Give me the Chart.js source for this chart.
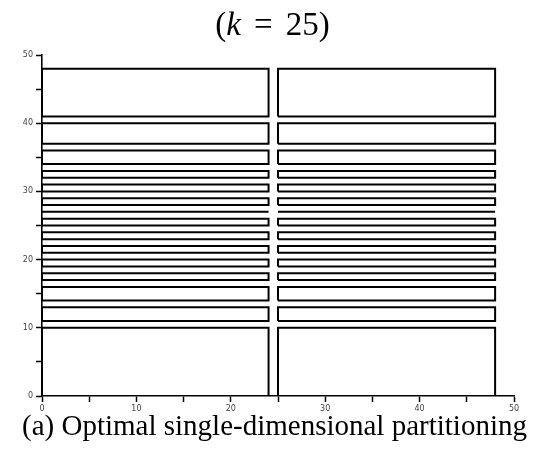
<!DOCTYPE html>
<html>
<head>
<meta charset="utf-8">
<script src="https://cdn.jsdelivr.net/npm/chart.js@4/dist/chart.umd.min.js"></script>
<style>
  html, body { margin: 0; padding: 0; background: #fff; }
  #wrap { position: relative; width: 543px; height: 453px; overflow: hidden; }
  #chart { position: absolute; left: 0; top: 0; }
  .txt { position: absolute; font-family: 'Liberation Serif', 'DejaVu Serif', serif; color: #000; white-space: nowrap; }
  #title { left: 0; width: 543px; text-align: center; top: 6px; font-size: 33px; padding-left: 1px; }
  #title .eq { margin: 0 13px; }
  #caption { left: 22px; top: 409px; font-size: 29px; }
</style>
</head>
<body>
<div id="wrap">
  <canvas id="chart" width="543" height="453"></canvas>
  <div id="title" class="txt">(<i>k</i><span class="eq">=</span>25)</div>
  <div id="caption" class="txt">(a) Optimal single-dimensional partitioning</div>
</div>
<script>
// columns of the partitioning (x ranges)
const colStart = [0, 25];
const colEnd = [24, 48];

// strips in each column (y ranges), bottom to top
const stripBottom = [0, 11, 14, 17, 19, 21, 23, 25, 27, 28, 30, 32, 34, 37, 41];
const stripTop = [10, 13, 16, 18, 20, 22, 24, 26, 27, 29, 31, 33, 36, 40, 48];

// axis ticks
const xTicks = [0, 10, 20, 30, 40, 50];
const yTicks = [0, 10, 20, 30, 40, 50];

const datasets = [];
colStart.forEach((x0, c) => {
  const x1 = colEnd[c];
  stripBottom.forEach((y0, i) => {
    const y1 = stripTop[i];
    datasets.push({
      data: [
        { x: x0, y: y0 }, { x: x1, y: y0 }, { x: x1, y: y1 },
        { x: x0, y: y1 }, { x: x0, y: y0 }
      ],
      showLine: true,
      borderColor: '#000',
      borderWidth: 2,
      pointRadius: 0,
      fill: false,
      tension: 0
    });
  });
});

const tickFont = { family: 'DejaVu Sans', size: 8 };

new Chart(document.getElementById('chart'), {
  type: 'scatter',
  data: { datasets },
  options: {
    responsive: false,
    animation: false,
    layout: { padding: { left: 0, top: 55, right: 29, bottom: 37 } },
    plugins: { legend: { display: false }, tooltip: { enabled: false } },
    scales: {
      x: {
        type: 'linear', min: 0, max: 50,
        afterFit: s => { s.height = 20; },
        border: { display: true, color: '#000', width: 1.6 },
        grid: { drawOnChartArea: false, drawTicks: true, tickLength: 6, tickColor: '#000', tickWidth: 1.5 },
        ticks: {
          stepSize: 5, padding: 2, color: '#444', font: tickFont, maxRotation: 0, autoSkip: false,
          callback: v => xTicks.includes(v) ? String(v) : ''
        }
      },
      y: {
        type: 'linear', min: 0, max: 50,
        afterFit: s => { s.width = 42; },
        border: { display: true, color: '#000', width: 1.6 },
        grid: { drawOnChartArea: false, drawTicks: true, tickLength: 6, tickColor: '#000', tickWidth: 1.5 },
        ticks: {
          stepSize: 5, padding: 3, color: '#444', font: tickFont, autoSkip: false,
          callback: v => yTicks.includes(v) ? String(v) : ''
        }
      }
    }
  }
});
</script>
</body>
</html>
